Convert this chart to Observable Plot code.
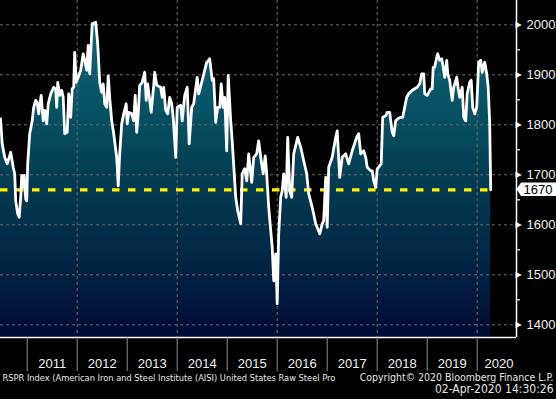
<!DOCTYPE html>
<html>
<head>
<meta charset="utf-8">
<script src="https://cdn.jsdelivr.net/npm/d3@7"></script>
<script src="https://cdn.jsdelivr.net/npm/@observablehq/plot@0.6"></script>
<style>
  html, body { margin: 0; padding: 0; background: #000; }
  #chart svg { display: block; }
</style>
</head>
<body>
<div id="chart"></div>
<script>
// ---- Data (decimal year, weekly raw steel production, thousand tons) ----
const dates = [
  2010.466, 2010.50, 2010.55, 2010.60, 2010.67, 2010.72, 2010.75, 2010.77, 2010.81, 2010.84,
  2010.87, 2010.89, 2010.91, 2010.94, 2010.97, 2010.99, 2011.01, 2011.05, 2011.10, 2011.13,
  2011.17, 2011.20, 2011.23, 2011.28, 2011.32, 2011.35, 2011.39, 2011.42, 2011.47, 2011.53,
  2011.57, 2011.59, 2011.61, 2011.65, 2011.69, 2011.72, 2011.75, 2011.80, 2011.83, 2011.87,
  2011.90, 2011.93, 2011.95, 2011.98, 2012.02, 2012.07, 2012.12, 2012.15, 2012.19, 2012.22,
  2012.25, 2012.30, 2012.37, 2012.41, 2012.45, 2012.49, 2012.52, 2012.55, 2012.59, 2012.62,
  2012.65, 2012.69, 2012.73, 2012.79, 2012.82, 2012.85, 2012.89, 2012.93, 2012.98, 2013.00,
  2013.03, 2013.09, 2013.13, 2013.16, 2013.19, 2013.22, 2013.25, 2013.30, 2013.35, 2013.38,
  2013.41, 2013.48, 2013.53, 2013.55, 2013.59, 2013.67, 2013.70, 2013.73, 2013.77, 2013.81,
  2013.85, 2013.89, 2013.92, 2013.97, 2014.00, 2014.07, 2014.10, 2014.15, 2014.20, 2014.24,
  2014.29, 2014.33, 2014.40, 2014.43, 2014.50, 2014.55, 2014.59, 2014.65, 2014.70, 2014.73,
  2014.77, 2014.81, 2014.85, 2014.88, 2014.92, 2014.95, 2014.99, 2015.02, 2015.07, 2015.10,
  2015.17, 2015.21, 2015.27, 2015.30, 2015.35, 2015.39, 2015.43, 2015.49, 2015.53, 2015.59,
  2015.63, 2015.68, 2015.72, 2015.76, 2015.79, 2015.83, 2015.90, 2015.93, 2015.97, 2016.00,
  2016.03, 2016.07, 2016.10, 2016.13, 2016.18, 2016.21, 2016.25, 2016.29, 2016.33, 2016.41,
  2016.47, 2016.53, 2016.59, 2016.63, 2016.70, 2016.77, 2016.85, 2016.90, 2016.93, 2016.97,
  2017.00, 2017.03, 2017.10, 2017.17, 2017.20, 2017.25, 2017.30, 2017.37, 2017.43, 2017.50,
  2017.59, 2017.63, 2017.67, 2017.73, 2017.77, 2017.80, 2017.87, 2017.90, 2017.93, 2017.97,
  2018.00, 2018.03, 2018.08, 2018.11, 2018.17, 2018.20, 2018.25, 2018.30, 2018.33, 2018.37,
  2018.41, 2018.47, 2018.51, 2018.55, 2018.59, 2018.63, 2018.70, 2018.75, 2018.80, 2018.85,
  2018.89, 2018.93, 2018.95, 2019.00, 2019.07, 2019.10, 2019.12, 2019.15, 2019.19, 2019.21,
  2019.25, 2019.29, 2019.32, 2019.35, 2019.39, 2019.41, 2019.45, 2019.50, 2019.53, 2019.59,
  2019.62, 2019.65, 2019.70, 2019.73, 2019.77, 2019.80, 2019.85, 2019.88, 2019.91, 2019.95,
  2019.99, 2020.03, 2020.07, 2020.10, 2020.15, 2020.19, 2020.22, 2020.25, 2020.27
];
const values = [
  1812, 1762, 1735, 1722, 1745, 1715, 1702, 1648, 1622, 1615,
  1655, 1699, 1675, 1699, 1652, 1648, 1722, 1782, 1808, 1835,
  1849, 1845, 1822, 1859, 1808, 1829, 1802, 1842, 1862, 1875,
  1872, 1835, 1885, 1859, 1869, 1855, 1782, 1785, 1862, 1815,
  1872, 1875, 1945, 1885, 1895, 1909, 1942, 1929, 1909, 1959,
  1902, 2002, 2005, 1962, 1885, 1865, 1882, 1842, 1835, 1898,
  1855, 1808, 1782, 1735, 1678, 1742, 1802, 1822, 1842, 1802,
  1825, 1822, 1808, 1859, 1785, 1822, 1879, 1885, 1905, 1849,
  1882, 1825, 1879, 1905, 1879, 1875, 1855, 1875, 1829, 1822,
  1855, 1842, 1815, 1735, 1835, 1839, 1808, 1859, 1875, 1762,
  1835, 1842, 1895, 1862, 1889, 1909, 1925, 1932, 1889, 1892,
  1805, 1835, 1835, 1882, 1835, 1855, 1748, 1899, 1808, 1768,
  1655, 1628, 1602, 1702, 1712, 1688, 1742, 1685, 1735, 1742,
  1768, 1728, 1702, 1738, 1702, 1635, 1555, 1488, 1542, 1442,
  1582, 1655, 1668, 1702, 1655, 1775, 1668, 1655, 1742, 1775,
  1755, 1728, 1702, 1662, 1635, 1602, 1582, 1602, 1608, 1695,
  1595, 1715, 1735, 1775, 1788, 1695, 1735, 1742, 1722, 1748,
  1775, 1782, 1742, 1748, 1735, 1715, 1708, 1708, 1688, 1675,
  1712, 1715, 1722, 1815, 1818, 1825, 1825, 1785, 1778, 1808,
  1812, 1815, 1815, 1835, 1855, 1862, 1869, 1872, 1875, 1882,
  1902, 1902, 1862, 1859, 1872, 1872, 1915, 1915, 1935, 1942,
  1929, 1932, 1915, 1895, 1929, 1902, 1889, 1849, 1875, 1895,
  1872, 1855, 1875, 1815, 1808, 1862, 1885, 1889, 1835, 1822,
  1835, 1925, 1929, 1905, 1925, 1902, 1875, 1802, 1670
];
const lastValue = 1670;
const years = [2011, 2012, 2013, 2014, 2015, 2016, 2017, 2018, 2019, 2020];
const yearLabels = ["2011", "2012", "2013", "2014", "2015", "2016", "2017", "2018", "2019", "2020"];
const gridYears = [2012, 2014, 2016, 2018, 2020];
const yTicks = [1400, 1500, 1600, 1700, 1800, 1900, 2000];
const yMinorTicks = [1450, 1550, 1650, 1750, 1850, 1950];
const footerLeft = "RSPR Index (American Iron and Steel Institute (AISI) United States Raw Steel Pro";
const footerRight1 = "Copyright\u00A9 2020 Bloomberg Finance L.P.";
const footerRight2 = "02-Apr-2020 14:30:26";

// ---- Build ----
const data = dates.map((d, i) => ({date: d, value: values[i]}));
const W = 556, H = 399, mL = 0, mR = 40, mT = 0, mB = 62;
const xDomain = [2010.466, 2020.786];
const yDomain = [1374.6, 2048.6];
const pxPerYear = (W - mL - mR) / (xDomain[1] - xDomain[0]);
const pxPerUnit = (H - mT - mB) / (yDomain[1] - yDomain[0]);
const lastDate = dates[dates.length - 1];
const font = "Liberation Sans, Arial, sans-serif";
const footFont = "Liberation Sans Narrow, DejaVu Sans Condensed, Liberation Sans, sans-serif";

const svg = Plot.plot({
  width: W, height: H,
  marginLeft: mL, marginRight: mR, marginTop: mT, marginBottom: mB,
  style: {background: "#000", color: "white", overflow: "visible", fontFamily: font},
  x: {domain: xDomain, axis: null},
  y: {domain: yDomain, axis: null},
  marks: [
    Plot.areaY(data, {x: "date", y1: yDomain[0], y2: "value", fill: "url(#fillGrad)"}),
    Plot.ruleY(yTicks, {stroke: "#6a6a6a", strokeWidth: 1, strokeDasharray: "3,3"}),
    Plot.ruleX(gridYears, {stroke: "#6a6a6a", strokeWidth: 1, strokeDasharray: "3,3"}),
    Plot.ruleY([lastValue], {x1: xDomain[0], x2: lastDate, stroke: "#ffee00", strokeWidth: 3.2, strokeDasharray: "7.5,8.5"}),
    Plot.line(data, {x: "date", y: "value", stroke: "white", strokeWidth: 2.8, strokeLinejoin: "round"}),
    // frame: bottom and right
    Plot.ruleY([yDomain[0]], {stroke: "white", strokeWidth: 1.5}),
    Plot.ruleX([xDomain[1]], {stroke: "white", strokeWidth: 1.5}),
    // minor ticks on right axis
    Plot.ruleY(yMinorTicks, {x1: xDomain[1], x2: xDomain[1] + 4 / pxPerYear, stroke: "white", strokeWidth: 1.2}),
    // major tick markers (arrows)
    Plot.text(yTicks, {x: xDomain[1], y: d => d, text: () => "\u25B6", textAnchor: "start", dx: -1, fill: "white", fontSize: 8, fontFamily: "DejaVu Sans"}),
    // y labels
    Plot.text(yTicks, {x: xDomain[1], y: d => d, text: d => String(d), textAnchor: "start", dx: 10, fill: "#f2f2f2", fontSize: 13, fontFamily: font}),
    // last value label
    Plot.text([lastValue], {x: xDomain[1], y: d => d, text: d => String(d), textAnchor: "start", dx: 7, fill: "#000", fontSize: 13, fontFamily: font}),
    // x axis separators
    Plot.ruleX(years, {y1: yDomain[0], y2: yDomain[0] - 34 / pxPerUnit, stroke: "#8c8c8c", strokeWidth: 1}),
    // year labels
    Plot.text(years, {
      x: d => Math.min(d + 0.5, xDomain[1] - 0.35),
      y: yDomain[0] - 26 / pxPerUnit,
      text: (d, i) => yearLabels[i],
      fill: "#f2f2f2", fontSize: 13, fontFamily: font
    }),
    // footer
    Plot.text([footerLeft], {frameAnchor: "bottom-left", dx: 2, dy: 43.5, textAnchor: "start", fill: "#e6e6e6", fontSize: 11, fontFamily: footFont}),
    Plot.text([footerRight1], {frameAnchor: "bottom-right", dx: 37, dy: 43.5, textAnchor: "end", fill: "#e6e6e6", fontSize: 11, fontFamily: footFont}),
    Plot.text([footerRight2], {frameAnchor: "bottom-right", dx: 37, dy: 55, textAnchor: "end", fill: "#e6e6e6", fontSize: 11, fontFamily: footFont})
  ]
});

// gradient definition
const root = d3.select(svg);
const defs = root.insert("defs", ":first-child");
const grad = defs.append("linearGradient").attr("id", "fillGrad")
  .attr("gradientUnits", "userSpaceOnUse").attr("x1", 0).attr("x2", 0).attr("y1", 0).attr("y2", H - mB);
[[0, "#0b6878"], [0.3, "#075466"], [0.55, "#043a50"], [0.8, "#022343"], [1, "#000a34"]]
  .forEach(([o, c]) => grad.append("stop").attr("offset", o).attr("stop-color", c));

// callout box behind the last-value label
const yScale = d3.scaleLinear().domain(yDomain).range([H - mB, mT]);
const xRight = W - mR;
const yl = yScale(lastValue);
root.insert("path", "defs + *")
  .attr("d", `M${xRight + 0.5},${yl} L${xRight + 5},${yl - 6.7} L${W},${yl - 6.7} L${W},${yl + 6.7} L${xRight + 5},${yl + 6.7} Z`)
  .attr("fill", "white");

document.getElementById("chart").appendChild(svg);

// fit footer texts to the reference widths by font size
const widths = {[footerLeft]: 333, [footerRight1]: 194, [footerRight2]: 122};
root.selectAll("text").each(function() {
  const t = this.textContent;
  if (widths[t]) {
    const w = this.getComputedTextLength();
    if (w > 0) {
      const fs = Math.min(12, 11 * widths[t] / w);
      d3.select(this).attr("font-size", fs.toFixed(2));
      d3.select(this).selectAll("tspan").attr("font-size", null);
    }
  }
});
</script>
</body>
</html>
